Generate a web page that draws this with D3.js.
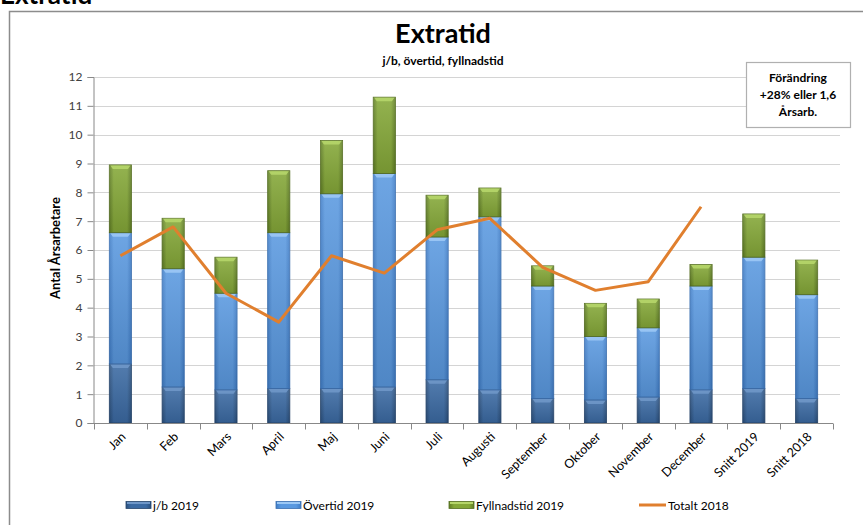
<!DOCTYPE html>
<html><head><meta charset="utf-8">
<script src="https://cdn.jsdelivr.net/npm/d3@7"></script>
<style>
html,body{margin:0;padding:0;background:#fff;}
svg{display:block;}
text{font-family:Lato,"Open Sans",sans-serif;}
</style></head>
<body><div id="chart"></div>
<script>
const categories = ["Jan","Feb","Mars","April","Maj","Juni","Juli","Augusti","September","Oktober","November","December","Snitt 2019","Snitt 2018"];
const jb2019 = [2.05,1.25,1.15,1.2,1.2,1.25,1.5,1.15,0.85,0.8,0.9,1.15,1.2,0.85];
const overtid2019 = [4.55,4.1,3.35,5.4,6.75,7.4,4.95,6.0,3.9,2.2,2.4,3.6,4.55,3.6];
const fyllnad2019 = [2.35,1.75,1.25,2.15,1.85,2.65,1.45,1.0,0.7,1.15,1.0,0.75,1.5,1.2];
const totalt2018 = [5.8,6.8,4.5,3.5,5.8,5.2,6.7,7.1,5.4,4.6,4.9,7.5];
const yTicks = [0,1,2,3,4,5,6,7,8,9,10,11,12];
const seriesNames = ["j/b 2019","Övertid 2019","Fyllnadstid 2019"];
const lineName = "Totalt 2018";

const W = 863, H = 525;
const svg = d3.select("#chart").append("svg").attr("width", W).attr("height", H);
const defs = svg.append("defs");

const colors = [
  {edge:"#2a4f7c", mid:"#3b6aa3", hi:"#6f97c8", stroke:"#27466d"},
  {edge:"#3f7cc6", mid:"#5a99e0", hi:"#9cc8f5", stroke:"#3b6fb0"},
  {edge:"#5f7d24", mid:"#85a838", hi:"#b6d66a", stroke:"#566f22"}
];
colors.forEach((c,i) => {
  const g = defs.append("linearGradient").attr("id","g"+i).attr("x1","0").attr("x2","1").attr("y1","0").attr("y2","0");
  g.append("stop").attr("offset","0%").attr("stop-color",c.edge);
  g.append("stop").attr("offset","20%").attr("stop-color",c.mid);
  g.append("stop").attr("offset","80%").attr("stop-color",c.mid);
  g.append("stop").attr("offset","100%").attr("stop-color",c.edge);
  const v = defs.append("linearGradient").attr("id","v"+i).attr("x1","0").attr("x2","0").attr("y1","0").attr("y2","1");
  v.append("stop").attr("offset","0%").attr("stop-color","#fff").attr("stop-opacity",0.12);
  v.append("stop").attr("offset","100%").attr("stop-color","#000").attr("stop-opacity",0.12);
});

// heading of the page above the chart (cut off at the top edge, as in the reference)
svg.append("text").attr("x",0).attr("y",4).attr("font-size",26).attr("font-weight","bold")
  .attr("font-family","Liberation Sans, Arial, sans-serif").attr("fill","#000").text("Extratid");

// outer frame
svg.append("path").attr("d",`M9.5,${H+5} L9.5,11.5 L${W+5},11.5`).attr("fill","none").attr("stroke","#8c8c8c").attr("stroke-width",1.5);

const x = d3.scaleBand().domain(categories).range([94,833]).paddingInner(0.58).paddingOuter(0.29);
const y = d3.scaleLinear().domain([0,12]).range([423,77]);

// gridlines
svg.append("g").selectAll("line").data(yTicks.filter(d=>d>0)).join("line")
  .attr("x1",94).attr("x2",840).attr("y1",d=>Math.round(y(d))+0.5).attr("y2",d=>Math.round(y(d))+0.5)
  .attr("stroke","#d4d4d4").attr("stroke-width",1.2);

// y axis
const yAxis = svg.append("g").attr("transform","translate(93.5,0)")
  .call(d3.axisLeft(y).tickValues(yTicks).tickSize(6).tickPadding(5));
yAxis.select(".domain").attr("stroke","#888");
yAxis.selectAll(".tick line").attr("stroke","#888");
yAxis.selectAll(".tick text").attr("font-size",12).attr("fill","#404040").attr("font-family","Lato, sans-serif");

const stackData = categories.map((c,i)=>({cat:c, s0:jb2019[i], s1:overtid2019[i], s2:fyllnad2019[i]}));
const stack = d3.stack().keys(["s0","s1","s2"])(stackData);

const bw = x.bandwidth();
stack.forEach((layer, li) => {
  const g = svg.append("g");
  layer.forEach(d => {
    const x0 = x(d.data.cat), yt = y(d[1]), yb = y(d[0]);
    const h = yb - yt;
    g.append("rect").attr("x",x0).attr("y",yt).attr("width",bw).attr("height",h)
      .attr("fill",`url(#g${li})`).attr("stroke",colors[li].stroke).attr("stroke-width",0.8);
    g.append("rect").attr("x",x0).attr("y",yt).attr("width",bw).attr("height",h)
      .attr("fill",`url(#v${li})`);
    const bh = Math.min(4, h/2);
    g.append("path").attr("d",`M${x0+1},${yt+0.5} L${x0+bw-1},${yt+0.5} L${x0+bw-3.5},${yt+bh} L${x0+3.5},${yt+bh} Z`)
      .attr("fill",colors[li].hi).attr("opacity",0.9);
  });
});

// x axis
const xAxis = svg.append("g").attr("transform","translate(0,423.5)");
xAxis.append("line").attr("x1",93.5).attr("x2",833).attr("y1",0).attr("y2",0).attr("stroke","#888");
const step = x.step();
const bounds = categories.map(c => x(c) + bw/2 - step/2).concat([x(categories[categories.length-1]) + bw/2 + step/2]);
xAxis.selectAll(".tk").data(bounds).join("line").attr("class","tk")
  .attr("x1",d=>Math.round(d)+0.5).attr("x2",d=>Math.round(d)+0.5).attr("y1",0).attr("y2",6).attr("stroke","#888");
xAxis.selectAll(".lbl").data(categories).join("text").attr("class","lbl")
  .attr("transform",d=>`translate(${x(d)+bw/2+6},${14}) rotate(-45)`)
  .attr("text-anchor","end").attr("font-size",12.5).attr("fill","#000").text(d=>d);

// line Totalt 2018
const line = d3.line().x((d,i)=>x(categories[i])+bw/2).y(d=>y(d));
svg.append("path").datum(totalt2018).attr("d",line).attr("fill","none")
  .attr("stroke","#e07f2e").attr("stroke-width",3).attr("stroke-linejoin","round");

// titles
svg.append("text").attr("x",443).attr("y",43).attr("text-anchor","middle").attr("font-size",27)
  .attr("font-weight","bold").attr("fill","#000").text("Extratid");
svg.append("text").attr("x",443).attr("y",65).attr("text-anchor","middle").attr("font-size",12)
  .attr("font-weight","bold").attr("fill","#000").text("j/b, övertid, fyllnadstid");
svg.append("text").attr("transform","translate(60,248) rotate(-90)").attr("text-anchor","middle")
  .attr("font-size",13).attr("font-weight","bold").attr("fill","#000").text("Antal Årsarbetare");

// annotation box
svg.append("rect").attr("x",746.5).attr("y",62.5).attr("width",104).attr("height",65)
  .attr("fill","#fff").attr("stroke","#b0b0b0").attr("stroke-width",1.2);
["Förändring","+28% eller 1,6","Årsarb."].forEach((t,i)=>{
  svg.append("text").attr("x",798).attr("y",82+i*17).attr("text-anchor","middle").attr("font-size",12)
    .attr("font-weight","bold").attr("fill","#000").text(t);
});

// legend
const legX = [126,276,449,639];
const legFont = "Liberation Sans Narrow, DejaVu Sans Condensed, sans-serif";
const leg = svg.append("g").attr("transform","translate(0,505)");
seriesNames.forEach((n,i)=>{
  leg.append("rect").attr("x",legX[i]).attr("y",-3.5).attr("width",25).attr("height",7)
    .attr("fill",`url(#g${i})`).attr("stroke",colors[i].stroke).attr("stroke-width",0.8);
  leg.append("rect").attr("x",legX[i]+1).attr("y",-3).attr("width",23).attr("height",2).attr("fill",colors[i].hi);
  leg.append("text").attr("x",legX[i]+27).attr("y",4.5).attr("font-size",12)
    .attr("font-family",legFont).attr("fill","#000").text(n);
});
leg.append("line").attr("x1",legX[3]).attr("x2",legX[3]+27).attr("y1",0).attr("y2",0).attr("stroke","#e07f2e").attr("stroke-width",3);
leg.append("text").attr("x",legX[3]+29).attr("y",4.5).attr("font-size",12)
  .attr("font-family",legFont).attr("fill","#000").text(lineName);
</script></body></html>
